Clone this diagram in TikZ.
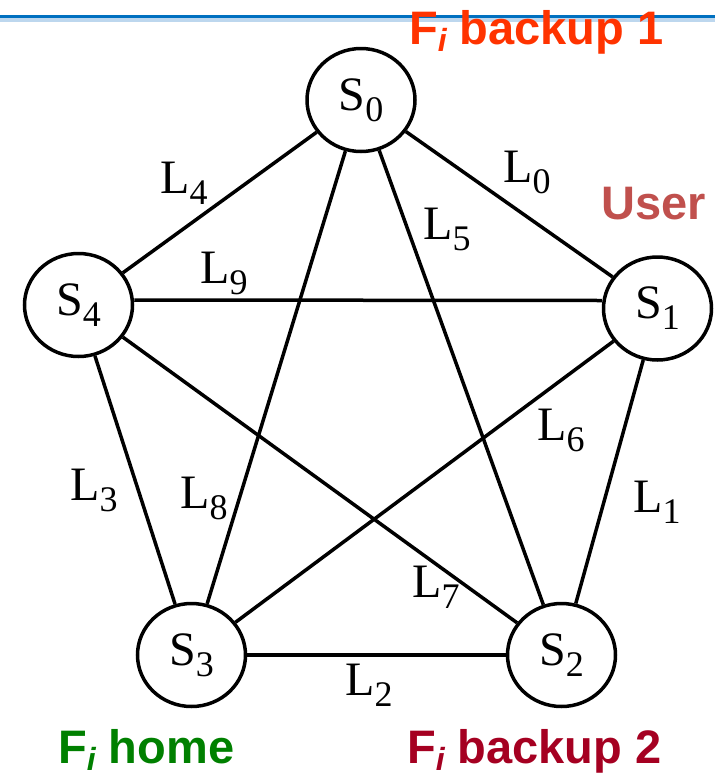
\documentclass[tikz,border=0pt]{standalone}
\usepackage{fontspec}
\setmainfont{Liberation Serif}
\newfontfamily\rolefont{Liberation Sans}
\usetikzlibrary{shapes.geometric}

\definecolor{rulebluedark}{HTML}{0070C0}
\definecolor{rulebluelight}{HTML}{BDD7EE}
\definecolor{backupone}{HTML}{FF3300}
\definecolor{usercol}{HTML}{C0504D}
\definecolor{homecol}{HTML}{008000}
\definecolor{backuptwo}{HTML}{A50021}

% subscripts set by hand at fixed sizes
\newcommand{\lsub}[1]{\raisebox{-11pt}{\fontsize{36}{36}\selectfont #1}}
\newcommand{\fsubi}{F\raisebox{-7pt}{\fontsize{32}{32}\selectfont\itshape i}}

\tikzset{
  station/.style={ellipse, draw, line width=3.5pt, minimum width=108pt,
    minimum height=103pt, inner sep=0pt, font=\fontsize{48}{48}\selectfont},
  linkline/.style={line width=3.5pt},
  linklabel/.style={anchor=base west, inner sep=0pt,
    font=\fontsize{48}{48}\selectfont},
  rolelabel/.style={anchor=base west, inner sep=0pt,
    font=\rolefont\bfseries\fontsize{47}{47}\selectfont},
}

\begin{document}
\begin{tikzpicture}[x=1pt,y=-1pt]
\useasboundingbox (0,0) rectangle (715,774);

% title rule
\draw[line width=4pt, rulebluelight] (0,20) -- (715,20);
\draw[line width=3pt, rulebluedark] (0,16.5) -- (715,16.5);

% stations
\node[station] (s0) at (361,100)   {S\lsub{0}};
\node[station] (s1) at (657.5,308.5) {S\lsub{1}};
\node[station] (s2) at (561.5,655) {S\lsub{2}};
\node[station] (s3) at (191.5,655) {S\lsub{3}};
\node[station] (s4) at (78.5,305)  {S\lsub{4}};

% links
\draw[linkline] (s0) -- (s1);
\draw[linkline] (s1) -- (s2);
\draw[linkline] (s2) -- (s3);
\draw[linkline] (s3) -- (s4);
\draw[linkline] (s4) -- (s0);
\draw[linkline] (s0) -- (s2);
\draw[linkline] (s1) -- (s3);
\draw[linkline] (s2) -- (s4);
\draw[linkline] (s3) -- (s0);
\draw[linkline] ([yshift=5pt]s4.east) -- ([yshift=8pt]s1.west);

% link labels
\node[linklabel] (l0) at (503,182) {L\lsub{0}};
\node[linklabel] (l1) at (633,512) {L\lsub{1}};
\node[linklabel] (l2) at (345,695) {L\lsub{2}};
\node[linklabel] (l3) at (70,500)  {L\lsub{3}};
\node[linklabel] (l4) at (160,193) {L\lsub{4}};
\node[linklabel] (l5) at (423,239) {L\lsub{5}};
\node[linklabel] (l6) at (537,440) {L\lsub{6}};
\node[linklabel] (l7) at (412,597) {L\lsub{7}};
\node[linklabel] (l8) at (180,508) {L\lsub{8}};
\node[linklabel] (l9) at (200,283) {L\lsub{9}};

% roles
\node[rolelabel, text=backupone] (r1) at (409,44)  {\fsubi{} backup 1};
\node[rolelabel, text=usercol]   (ru) at (601,219) {User};
\node[rolelabel, text=homecol]   (rh) at (58,763)  {\fsubi{} home};
\node[rolelabel, text=backuptwo] (r2) at (407,763) {\fsubi{} backup 2};
\end{tikzpicture}
\end{document}
